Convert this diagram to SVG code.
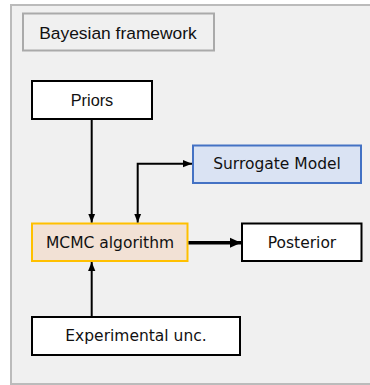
<svg xmlns="http://www.w3.org/2000/svg" width="370" height="385" viewBox="0 0 370 385">
<style>
.box{stroke-width:2}
.arial{font-family:"Liberation Sans",Arial,sans-serif;fill:#111}
.dv{font-family:"DejaVu Sans",Verdana,sans-serif;font-size:15.5px;fill:#111}
.conn{stroke:#000;fill:none}
</style>
<defs>
<marker id="ah" viewBox="0 0 10 10" refX="10" refY="5" markerWidth="4.5" markerHeight="4.5" orient="auto-start-reverse" markerUnits="strokeWidth">
<path d="M0,1 L10,5 L0,9 z" fill="#000"/>
</marker>
<marker id="ahb" viewBox="0 0 10 10" refX="10" refY="5" markerWidth="3.2" markerHeight="3.2" orient="auto" markerUnits="strokeWidth">
<path d="M0,0.5 L10,5 L0,9.5 z" fill="#000"/>
</marker>
</defs>
<rect x="11" y="5" width="370" height="379" fill="#f0f0f0" stroke="#bbbbbb" stroke-width="2"/>
<g id="bayesian">
<rect x="23" y="13.5" width="191" height="37" fill="#f0f0f0" stroke="#aaaaaa" stroke-width="2"/>
<text class="arial" x="118" y="32.5" font-size="17.4" text-anchor="middle" dominant-baseline="central">Bayesian framework</text>
</g>
<g id="priors">
<rect class="box" x="32" y="81" width="120" height="38" fill="#fff" stroke="#000"/>
<text class="arial" x="92" y="100" font-size="16.3" text-anchor="middle" dominant-baseline="central">Priors</text>
</g>
<g id="surrogate">
<rect class="box" x="193" y="145.5" width="168" height="37.5" fill="#dae3f3" stroke="#4472c4"/>
<text class="dv" x="277" y="164" text-anchor="middle" dominant-baseline="central">Surrogate Model</text>
</g>
<g id="mcmc">
<rect class="box" x="32" y="223.5" width="155.5" height="37.5" fill="#f2e1d5" stroke="#ffc000"/>
<text class="dv" x="110" y="242.5" text-anchor="middle" dominant-baseline="central">MCMC algorithm</text>
</g>
<g id="posterior">
<rect class="box" x="242" y="223.5" width="119.5" height="37.5" fill="#fff" stroke="#000"/>
<text class="dv" x="302" y="242.5" text-anchor="middle" dominant-baseline="central">Posterior</text>
</g>
<g id="experimental">
<rect class="box" x="32" y="317" width="208" height="38" fill="#fff" stroke="#000"/>
<text class="dv" x="136" y="336" text-anchor="middle" dominant-baseline="central">Experimental unc.</text>
</g>
<g id="connectors">
<path class="conn" style="stroke-width:2" d="M91.7,119 V222.5" marker-end="url(#ah)"/>
<path class="conn" style="stroke-width:2" d="M137.7,222.5 V163.7 H192" marker-start="url(#ah)" marker-end="url(#ah)"/>
<path class="conn" style="stroke-width:3.5" d="M188.5,242.7 H241" marker-end="url(#ahb)"/>
<path class="conn" style="stroke-width:2" d="M91.7,316 V262" marker-end="url(#ah)"/>
</g>
</svg>
